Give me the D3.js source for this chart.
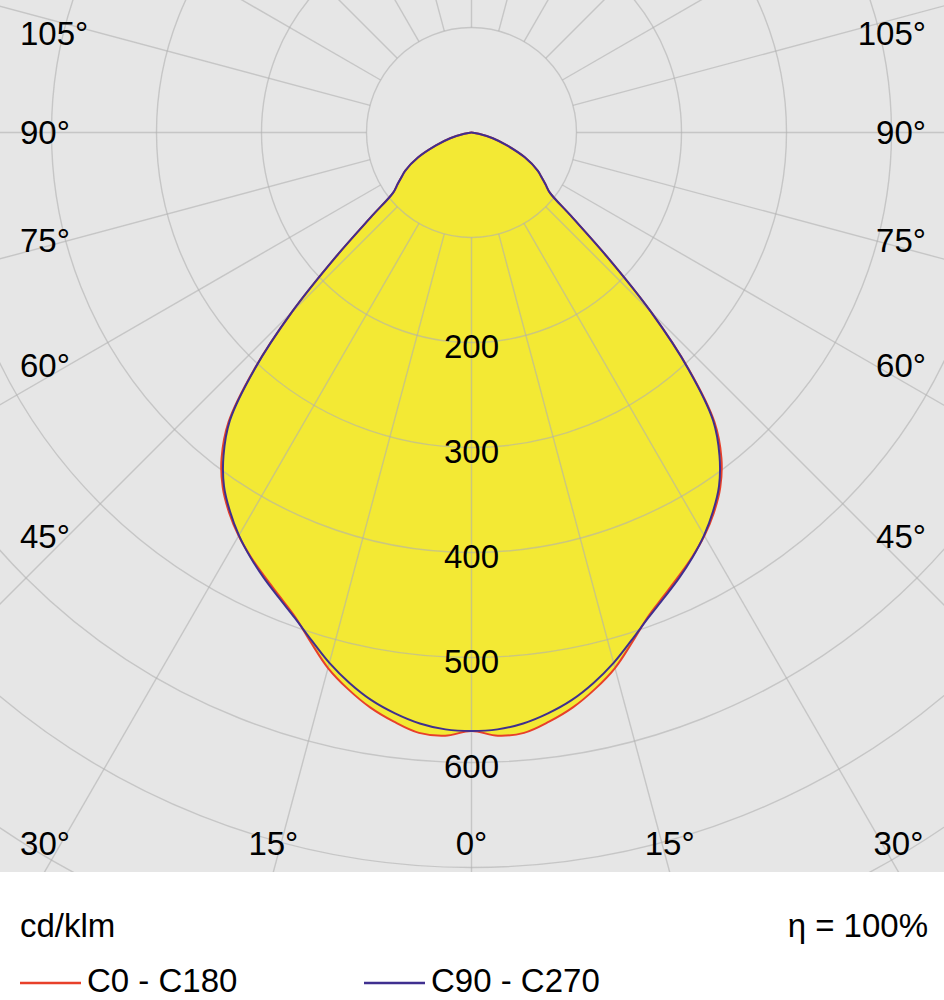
<!DOCTYPE html>
<html>
<head>
<meta charset="utf-8">
<script src="https://cdn.jsdelivr.net/npm/d3@7"></script>
<style>
  html, body { margin: 0; padding: 0; background: #fff; }
  svg { display: block; font-family: "Liberation Sans", Arial, sans-serif; }
</style>
</head>
<body>
<svg id="chart" width="944" height="1000"></svg>
<script>
// gamma angles (deg) and intensities (cd/klm), same on both halves
const gammaDeg = [0, 2.5, 5, 7.5, 10, 12.5, 15, 17.5, 20, 22.5, 25, 27.5, 30, 32.5, 35, 37.5, 40, 42.5, 45, 47.5, 50, 52.5, 55, 57.5, 60, 65, 70, 75, 80, 85, 90];
const c0c180 = [570, 575, 574, 566, 556, 543, 528, 509, 491, 478, 466.5, 455.5, 443.5, 429.5, 413, 391, 360, 307, 242, 175, 124, 94, 86, 79, 73, 56, 36, 21, 7, 1.5, 0];
const c90c270 = [570, 569, 565, 558, 549, 537, 523, 507, 492, 479.5, 468, 456, 443, 428, 411, 388, 358, 306, 242, 175, 124, 94, 86, 79, 73, 56, 36, 21, 7, 1.5, 0];

const ringValues = [100, 200, 300, 400, 500, 600, 700, 800, 900, 1000];
const ringLabels = [200, 300, 400, 500, 600];
const sideAngles = [105, 90, 75, 60, 45];
const bottomAngles = [-30, -15, 0, 15, 30];
const unitLabel = 'cd/klm';
const effLabel = 'η = 100%';
const seriesNames = ['C0 - C180', 'C90 - C270'];
const seriesColors = ['#e8402a', '#3f2f8f'];

const width = 944, plotH = 872;
const cx = 471.5, cy = 132.5;
const fontSize = 33;

const r = d3.scaleLinear().domain([0, 100]).range([0, 105]);
const rad = d => d * Math.PI / 180;

// signed gamma: positive = right half, negative = left half
function pt(g, v) {
	return [cx + r(v) * Math.sin(rad(g)), cy + r(v) * Math.cos(rad(g))];
}

function halfLoop(values) {
	let pts = [];
	for (let i = 0; i < gammaDeg.length; ++i) pts.push(pt(gammaDeg[i], values[i]));
	for (let i = gammaDeg.length - 2; i > 0; --i) pts.push(pt(-gammaDeg[i], values[i]));
	return pts;
}

const svg = d3.select('#chart');
svg.append('defs').append('clipPath').attr('id', 'plotClip')
	.append('rect').attr('x', 0).attr('y', 0).attr('width', width).attr('height', plotH);

svg.append('rect')
	.attr('x', 0).attr('y', 0).attr('width', width).attr('height', plotH)
	.attr('fill', '#e6e6e6');

const plot = svg.append('g').attr('clip-path', 'url(#plotClip)');
const line = d3.line().curve(d3.curveCatmullRomClosed.alpha(0.5));

// filled envelope of both planes
const envelope = c0c180.map((v, i) => Math.max(v, c90c270[i]));
plot.append('path')
	.attr('d', line(halfLoop(envelope)))
	.attr('fill', '#f3e934');

// grid drawn over the fill
const grid = plot.append('g')
	.attr('fill', 'none')
	.attr('stroke', '#b0b0b0')
	.attr('stroke-opacity', 0.6)
	.attr('stroke-width', 1.4);

grid.selectAll('circle').data(ringValues).join('circle')
	.attr('cx', cx).attr('cy', cy)
	.attr('r', d => r(d));

grid.selectAll('line').data(d3.range(0, 360, 15)).join('line')
	.attr('x1', d => pt(d, ringValues[0])[0])
	.attr('y1', d => pt(d, ringValues[0])[1])
	.attr('x2', d => pt(d, 1200)[0])
	.attr('y2', d => pt(d, 1200)[1]);

// curves
[c0c180, c90c270].forEach((vals, i) => {
	plot.append('path')
		.attr('d', line(halfLoop(vals)))
		.attr('fill', 'none')
		.attr('stroke', seriesColors[i])
		.attr('stroke-width', 2)
		.attr('stroke-linejoin', 'round');
});

const txt = svg.append('g')
	.attr('font-size', fontSize)
	.attr('fill', '#000');

// ring value labels on the 0 deg axis
txt.selectAll('text.ring').data(ringLabels).join('text')
	.attr('class', 'ring')
	.attr('x', cx)
	.attr('y', d => cy + r(d) + 15.5)
	.attr('text-anchor', 'middle')
	.text(d => d);

// side angle labels
const sideY = g => Math.max(33.5, cy + 404 / Math.tan(rad(g))) + 11.5;
txt.selectAll('text.left').data(sideAngles).join('text')
	.attr('class', 'left')
	.attr('x', 20)
	.attr('y', d => sideY(d))
	.text(d => d + '°');
txt.selectAll('text.right').data(sideAngles).join('text')
	.attr('class', 'right')
	.attr('x', 926)
	.attr('y', d => sideY(d))
	.attr('text-anchor', 'end')
	.text(d => d + '°');

// bottom angle labels
txt.selectAll('text.bottom').data(bottomAngles).join('text')
	.attr('class', 'bottom')
	.attr('x', d => Math.min(902, Math.max(45, cx + (plotH - cy) * Math.tan(rad(d)))))
	.attr('y', 855)
	.attr('text-anchor', 'middle')
	.text(d => Math.abs(d) + '°');

// footer
txt.append('text').attr('x', 20).attr('y', 937).text(unitLabel);
txt.append('text').attr('x', 928).attr('y', 937).attr('text-anchor', 'end').text(effLabel);

const legendX = [20, 364];
seriesNames.forEach((name, i) => {
	svg.append('line')
		.attr('x1', legendX[i]).attr('x2', legendX[i] + 61)
		.attr('y1', 983).attr('y2', 983)
		.attr('stroke', seriesColors[i])
		.attr('stroke-width', 2.5);
	txt.append('text')
		.attr('x', legendX[i] + 67)
		.attr('y', 992)
		.text(name);
});
</script>
</body>
</html>
